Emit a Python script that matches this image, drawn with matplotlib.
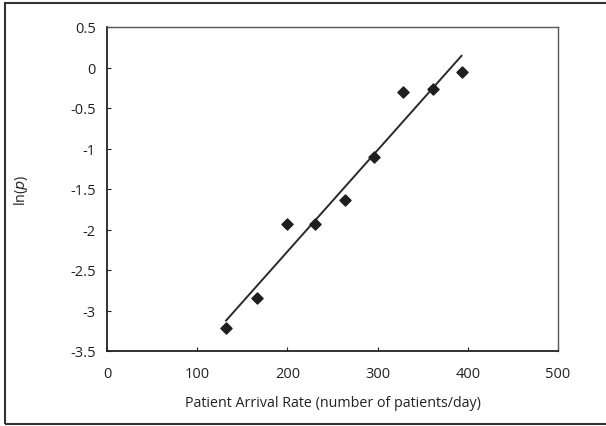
import numpy as np
import matplotlib.pyplot as plt
from matplotlib.patches import Rectangle

# data
arrival_rate = [132, 166, 200, 231, 264, 296, 328, 361, 394]
ln_p = [-3.22, -2.84, -1.93, -1.93, -1.64, -1.11, -0.30, -0.26, -0.06]

x_ticks = [0, 100, 200, 300, 400, 500]
y_ticks = [0.5, 0, -0.5, -1, -1.5, -2, -2.5, -3, -3.5]

plt.rcParams['font.family'] = ['Open Sans', 'DejaVu Sans']

fig = plt.figure(figsize=(6.06, 4.27), dpi=100)
ax = fig.add_axes([107 / 606, 1 - 352 / 427, 451 / 606, 324 / 427])

# linear fit through the points
slope, icpt = np.polyfit(arrival_rate, ln_p, 1)
xs = np.array([min(arrival_rate), 393])
ax.plot(xs, slope * xs + icpt, color='#2a2a2a', lw=1.4, zorder=2)

ax.scatter(arrival_rate, ln_p, marker='D', s=32, color='#1e1e1e', zorder=3)

ax.set_xlim(0, 500)
ax.set_ylim(-3.5, 0.5)
ax.set_xticks(x_ticks)
ax.set_yticks(y_ticks)
ax.set_yticklabels([f'{v:g}' for v in y_ticks])
ax.tick_params(direction='in', length=3, width=0.8, labelsize=10.5, colors='#222222', pad=8)
ax.tick_params(axis='x', pad=11)

for side in ['left', 'bottom']:
    ax.spines[side].set_linewidth(1.3)
    ax.spines[side].set_color('#222222')
for side in ['top', 'right']:
    ax.spines[side].set_linewidth(1.0)
    ax.spines[side].set_color('#555555')

ax.set_xlabel('Patient Arrival Rate (number of patients/day)', fontsize=10.3, color='#222222', labelpad=10)
ax.set_ylabel(r'ln($\mathit{p}$)', fontsize=10.3, color='#222222', labelpad=29)

# outer frame around the chart
fig.patches.append(Rectangle((5 / 606, 2 / 427), 610 / 606, 421 / 427, transform=fig.transFigure,
                             fill=False, edgecolor='#333333', lw=1.5))

fig.savefig('out.png', dpi=100)
